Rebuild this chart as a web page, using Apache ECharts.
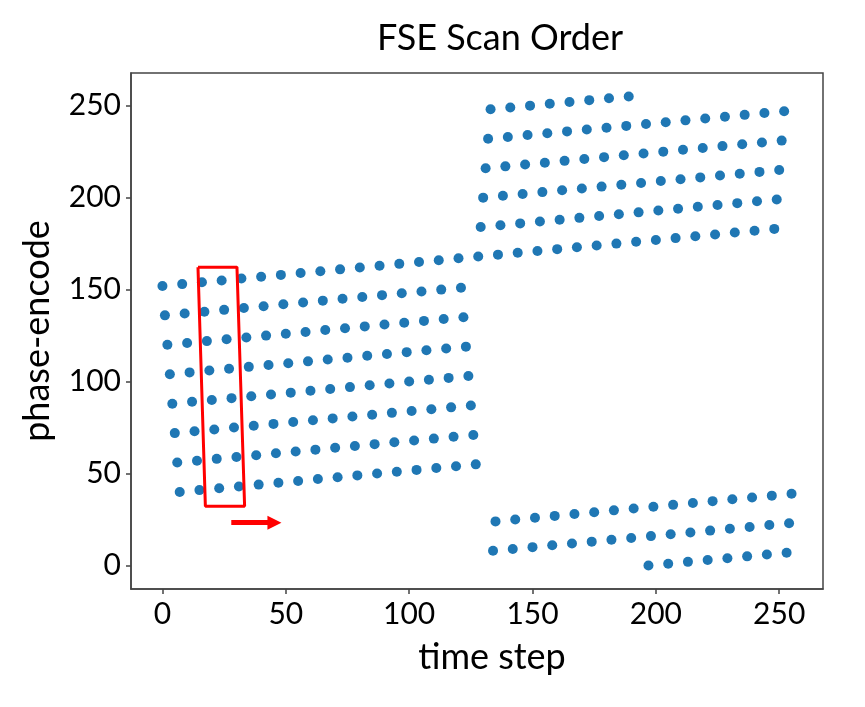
<!DOCTYPE html>
<html>
<head>
<meta charset="utf-8">
<script src="https://cdn.jsdelivr.net/npm/echarts@6/dist/echarts.min.js"></script>
<style>
html,body{margin:0;padding:0;background:#fff;}
#chart{width:865px;height:707px;}
</style>
</head>
<body>
<div id="chart"></div>
<script>
// time step of each echo
var timeStep = [
  0,1,2,3,4,5,6,7, 8,9,10,11,12,13,14,15,
  16,17,18,19,20,21,22,23, 24,25,26,27,28,29,30,31,
  32,33,34,35,36,37,38,39, 40,41,42,43,44,45,46,47,
  48,49,50,51,52,53,54,55, 56,57,58,59,60,61,62,63,
  64,65,66,67,68,69,70,71, 72,73,74,75,76,77,78,79,
  80,81,82,83,84,85,86,87, 88,89,90,91,92,93,94,95,
  96,97,98,99,100,101,102,103, 104,105,106,107,108,109,110,111,
  112,113,114,115,116,117,118,119, 120,121,122,123,124,125,126,127,
  128,129,130,131,132,133,134,135, 136,137,138,139,140,141,142,143,
  144,145,146,147,148,149,150,151, 152,153,154,155,156,157,158,159,
  160,161,162,163,164,165,166,167, 168,169,170,171,172,173,174,175,
  176,177,178,179,180,181,182,183, 184,185,186,187,188,189,190,191,
  192,193,194,195,196,197,198,199, 200,201,202,203,204,205,206,207,
  208,209,210,211,212,213,214,215, 216,217,218,219,220,221,222,223,
  224,225,226,227,228,229,230,231, 232,233,234,235,236,237,238,239,
  240,241,242,243,244,245,246,247, 248,249,250,251,252,253,254,255
];
// phase-encode line acquired at each time step
var phaseEncode = [
  152,136,120,104,88,72,56,40,
  153,137,121,105,89,73,57,41,
  154,138,122,106,90,74,58,42,
  155,139,123,107,91,75,59,43,
  156,140,124,108,92,76,60,44,
  157,141,125,109,93,77,61,45,
  158,142,126,110,94,78,62,46,
  159,143,127,111,95,79,63,47,
  160,144,128,112,96,80,64,48,
  161,145,129,113,97,81,65,49,
  162,146,130,114,98,82,66,50,
  163,147,131,115,99,83,67,51,
  164,148,132,116,100,84,68,52,
  165,149,133,117,101,85,69,53,
  166,150,134,118,102,86,70,54,
  167,151,135,119,103,87,71,55,
  168,184,200,216,232,248,8,24,
  169,185,201,217,233,249,9,25,
  170,186,202,218,234,250,10,26,
  171,187,203,219,235,251,11,27,
  172,188,204,220,236,252,12,28,
  173,189,205,221,237,253,13,29,
  174,190,206,222,238,254,14,30,
  175,191,207,223,239,255,15,31,
  176,192,208,224,240,0,16,32,
  177,193,209,225,241,1,17,33,
  178,194,210,226,242,2,18,34,
  179,195,211,227,243,3,19,35,
  180,196,212,228,244,4,20,36,
  181,197,213,229,245,5,21,37,
  182,198,214,230,246,6,22,38,
  183,199,215,231,247,7,23,39
];
var xTicks = [0, 50, 100, 150, 200, 250];
var yTicks = [0, 50, 100, 150, 200, 250];
// annotation: highlighted echo train (data coords) and arrow
var highlightBox = [[14.4,162.2],[30.2,162.2],[33.3,32.3],[17.4,32.3],[14.4,162.2]];
var arrowLine = [[27.9,23.3],[45.4,23.3]];

var points = timeStep.map(function(t, i){ return [t, phaseEncode[i]]; });
var FONT = 'Lato';
var chart = echarts.init(document.getElementById('chart'), null, {renderer:'canvas'});
chart.setOption({
  animation: false,
  backgroundColor: '#fff',
  title: {
    text: 'FSE Scan Order',
    left: 495, top: 15, textAlign: 'center',
    textStyle: {fontFamily: FONT, fontSize: 36, fontWeight: 'normal', color: '#000'}
  },
  grid: {
    left: 131, top: 73, right: 42, bottom: 118,
    show: true, borderColor: '#444', borderWidth: 1.5, backgroundColor: 'transparent'
  },
  xAxis: {
    type: 'value', min: -12.75, max: 267.75,
    name: 'time step', nameLocation: 'middle', nameGap: 50,
    nameTextStyle: {fontFamily: FONT, fontSize: 36, color: '#000', padding: [0,0,0,30]},
    axisLine: {show: true, onZero: false, lineStyle: {color: '#444', width: 1.5}},
    axisTick: {show: true, length: 5, customValues: xTicks, lineStyle: {color: '#444', width: 1.5}},
    axisLabel: {customValues: xTicks, fontFamily: FONT, fontSize: 30, color: '#000', margin: 10},
    splitLine: {show: false}
  },
  yAxis: {
    type: 'value', min: -12.75, max: 267.75,
    name: 'phase-encode', nameLocation: 'middle', nameGap: 76, nameRotate: 90,
    nameTextStyle: {fontFamily: FONT, fontSize: 36, color: '#000'},
    axisLine: {show: true, onZero: false, lineStyle: {color: '#444', width: 1.5}},
    axisTick: {show: true, length: 5, customValues: yTicks, lineStyle: {color: '#444', width: 1.5}},
    axisLabel: {customValues: yTicks, fontFamily: FONT, fontSize: 30, color: '#000', margin: 10},
    splitLine: {show: false}
  },
  series: [
    {
      type: 'scatter', data: points, symbolSize: 10,
      itemStyle: {color: '#1f77b4', opacity: 1},
      silent: true
    },
    {
      type: 'line', data: highlightBox, showSymbol: false, symbol: 'none',
      lineStyle: {color: '#ff0000', width: 3}, silent: true, z: 5
    },
    {
      type: 'line', data: arrowLine, showSymbol: false, symbol: 'none',
      lineStyle: {color: 'rgba(0,0,0,0)', width: 0}, silent: true, z: 5,
      markLine: {
        silent: true, animation: false,
        symbol: ['none', 'triangle'], symbolSize: [14, 14],
        label: {show: false},
        lineStyle: {color: '#ff0000', width: 5, type: 'solid'},
        data: [[{coord: arrowLine[0]}, {coord: arrowLine[1]}]]
      }
    }
  ]
});
</script>
</body>
</html>
